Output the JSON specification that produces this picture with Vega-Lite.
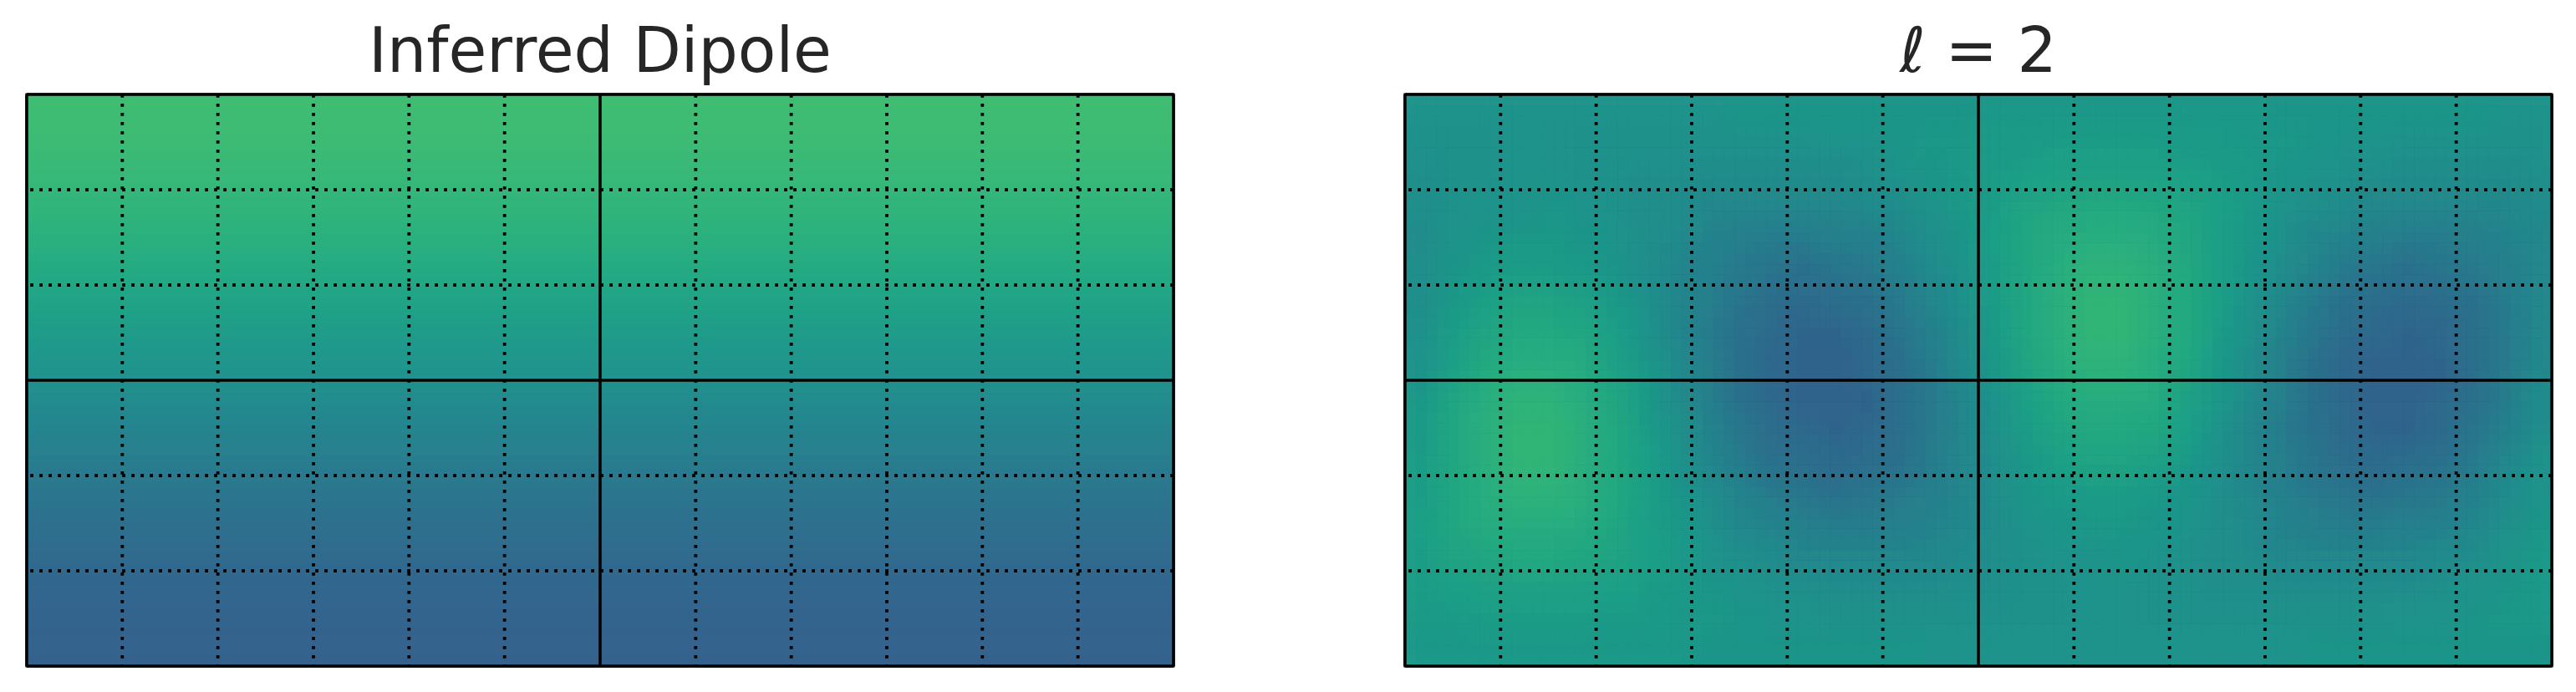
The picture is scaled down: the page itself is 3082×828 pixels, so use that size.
{
"$schema": "https://vega.github.io/schema/vega-lite/v6.json",
"background": "white",
"padding": {"left": 28, "top": 24, "right": 20, "bottom": 20},
"spacing": 269,
"config": {
  "view": {"stroke": "#000", "strokeWidth": 3.2},
  "title": {"font": "DejaVu Sans", "fontSize": 74.5, "fontWeight": "normal", "color": "#262626", "baseline": "alphabetic", "offset": 10}
},
"datasets": {
"mer": [{"lon":-180,"k":"s"},{"lon":-150,"k":"d"},{"lon":-120,"k":"d"},{"lon":-90,"k":"d"},{"lon":-60,"k":"d"},{"lon":-30,"k":"d"},{"lon":0,"k":"s"},{"lon":30,"k":"d"},{"lon":60,"k":"d"},{"lon":90,"k":"d"},{"lon":120,"k":"d"},{"lon":150,"k":"d"},{"lon":180,"k":"s"}],
"par": [{"lat":-90,"k":"s"},{"lat":-60,"k":"d"},{"lat":-30,"k":"d"},{"lat":0,"k":"s"},{"lat":30,"k":"d"},{"lat":60,"k":"d"},{"lat":90,"k":"s"}],
"dip": [
{"y":-89,"v":0.310},{"y":-87,"v":0.310},{"y":-85,"v":0.311},{"y":-83,"v":0.311},{"y":-81,"v":0.312},{"y":-79,"v":0.313},{"y":-77,"v":0.315},{"y":-75,"v":0.316},{"y":-73,"v":0.318},{"y":-71,"v":0.320},
{"y":-69,"v":0.323},{"y":-67,"v":0.325},{"y":-65,"v":0.328},{"y":-63,"v":0.331},{"y":-61,"v":0.334},{"y":-59,"v":0.337},{"y":-57,"v":0.341},{"y":-55,"v":0.344},{"y":-53,"v":0.348},{"y":-51,"v":0.352},
{"y":-49,"v":0.357},{"y":-47,"v":0.361},{"y":-45,"v":0.366},{"y":-43,"v":0.370},{"y":-41,"v":0.375},{"y":-39,"v":0.380},{"y":-37,"v":0.386},{"y":-35,"v":0.391},{"y":-33,"v":0.397},{"y":-31,"v":0.402},
{"y":-29,"v":0.408},{"y":-27,"v":0.414},{"y":-25,"v":0.420},{"y":-23,"v":0.426},{"y":-21,"v":0.432},{"y":-19,"v":0.438},{"y":-17,"v":0.444},{"y":-15,"v":0.451},{"y":-13,"v":0.457},{"y":-11,"v":0.464},
{"y":-9,"v":0.470},{"y":-7,"v":0.477},{"y":-5,"v":0.483},{"y":-3,"v":0.490},{"y":-1,"v":0.497},{"y":1,"v":0.503},{"y":3,"v":0.510},{"y":5,"v":0.517},{"y":7,"v":0.523},{"y":9,"v":0.530},
{"y":11,"v":0.536},{"y":13,"v":0.543},{"y":15,"v":0.549},{"y":17,"v":0.556},{"y":19,"v":0.562},{"y":21,"v":0.568},{"y":23,"v":0.574},{"y":25,"v":0.580},{"y":27,"v":0.586},{"y":29,"v":0.592},
{"y":31,"v":0.598},{"y":33,"v":0.603},{"y":35,"v":0.609},{"y":37,"v":0.614},{"y":39,"v":0.620},{"y":41,"v":0.625},{"y":43,"v":0.630},{"y":45,"v":0.634},{"y":47,"v":0.639},{"y":49,"v":0.643},
{"y":51,"v":0.648},{"y":53,"v":0.652},{"y":55,"v":0.656},{"y":57,"v":0.659},{"y":59,"v":0.663},{"y":61,"v":0.666},{"y":63,"v":0.669},{"y":65,"v":0.672},{"y":67,"v":0.675},{"y":69,"v":0.677},
{"y":71,"v":0.680},{"y":73,"v":0.682},{"y":75,"v":0.684},{"y":77,"v":0.685},{"y":79,"v":0.687},{"y":81,"v":0.688},{"y":83,"v":0.689},{"y":85,"v":0.689},{"y":87,"v":0.690},{"y":89,"v":0.690}
],
"l2": [
{"x":-175,"y":85,"v":0.52},{"x":-165,"y":85,"v":0.52},{"x":-155,"y":85,"v":0.52},{"x":-145,"y":85,"v":0.52},{"x":-135,"y":85,"v":0.52},{"x":-125,"y":85,"v":0.52},{"x":-115,"y":85,"v":0.52},{"x":-105,"y":85,"v":0.52},{"x":-95,"y":85,"v":0.52},{"x":-85,"y":85,"v":0.52},{"x":-75,"y":85,"v":0.53},{"x":-65,"y":85,"v":0.53},{"x":-55,"y":85,"v":0.53},{"x":-45,"y":85,"v":0.53},{"x":-35,"y":85,"v":0.53},{"x":-25,"y":85,"v":0.53},{"x":-15,"y":85,"v":0.53},{"x":-5,"y":85,"v":0.53},{"x":5,"y":85,"v":0.54},{"x":15,"y":85,"v":0.54},{"x":25,"y":85,"v":0.54},{"x":35,"y":85,"v":0.54},{"x":45,"y":85,"v":0.54},{"x":55,"y":85,"v":0.54},{"x":65,"y":85,"v":0.54},{"x":75,"y":85,"v":0.54},{"x":85,"y":85,"v":0.54},{"x":95,"y":85,"v":0.53},{"x":105,"y":85,"v":0.53},{"x":115,"y":85,"v":0.53},{"x":125,"y":85,"v":0.53},{"x":135,"y":85,"v":0.53},{"x":145,"y":85,"v":0.53},{"x":155,"y":85,"v":0.53},{"x":165,"y":85,"v":0.52},{"x":175,"y":85,"v":0.52},
{"x":-175,"y":75,"v":0.51},{"x":-165,"y":75,"v":0.51},{"x":-155,"y":75,"v":0.51},{"x":-145,"y":75,"v":0.52},{"x":-135,"y":75,"v":0.52},{"x":-125,"y":75,"v":0.51},{"x":-115,"y":75,"v":0.51},{"x":-105,"y":75,"v":0.51},{"x":-95,"y":75,"v":0.51},{"x":-85,"y":75,"v":0.51},{"x":-75,"y":75,"v":0.51},{"x":-65,"y":75,"v":0.51},{"x":-55,"y":75,"v":0.51},{"x":-45,"y":75,"v":0.52},{"x":-35,"y":75,"v":0.52},{"x":-25,"y":75,"v":0.53},{"x":-15,"y":75,"v":0.54},{"x":-5,"y":75,"v":0.54},{"x":5,"y":75,"v":0.55},{"x":15,"y":75,"v":0.55},{"x":25,"y":75,"v":0.56},{"x":35,"y":75,"v":0.56},{"x":45,"y":75,"v":0.56},{"x":55,"y":75,"v":0.56},{"x":65,"y":75,"v":0.55},{"x":75,"y":75,"v":0.55},{"x":85,"y":75,"v":0.54},{"x":95,"y":75,"v":0.54},{"x":105,"y":75,"v":0.53},{"x":115,"y":75,"v":0.52},{"x":125,"y":75,"v":0.52},{"x":135,"y":75,"v":0.51},{"x":145,"y":75,"v":0.51},{"x":155,"y":75,"v":0.51},{"x":165,"y":75,"v":0.51},{"x":175,"y":75,"v":0.51},
{"x":-175,"y":65,"v":0.50},{"x":-165,"y":65,"v":0.51},{"x":-155,"y":65,"v":0.51},{"x":-145,"y":65,"v":0.52},{"x":-135,"y":65,"v":0.52},{"x":-125,"y":65,"v":0.51},{"x":-115,"y":65,"v":0.51},{"x":-105,"y":65,"v":0.50},{"x":-95,"y":65,"v":0.50},{"x":-85,"y":65,"v":0.49},{"x":-75,"y":65,"v":0.49},{"x":-65,"y":65,"v":0.49},{"x":-55,"y":65,"v":0.49},{"x":-45,"y":65,"v":0.49},{"x":-35,"y":65,"v":0.50},{"x":-25,"y":65,"v":0.52},{"x":-15,"y":65,"v":0.53},{"x":-5,"y":65,"v":0.54},{"x":5,"y":65,"v":0.56},{"x":15,"y":65,"v":0.57},{"x":25,"y":65,"v":0.58},{"x":35,"y":65,"v":0.58},{"x":45,"y":65,"v":0.58},{"x":55,"y":65,"v":0.58},{"x":65,"y":65,"v":0.57},{"x":75,"y":65,"v":0.56},{"x":85,"y":65,"v":0.55},{"x":95,"y":65,"v":0.53},{"x":105,"y":65,"v":0.52},{"x":115,"y":65,"v":0.51},{"x":125,"y":65,"v":0.50},{"x":135,"y":65,"v":0.49},{"x":145,"y":65,"v":0.49},{"x":155,"y":65,"v":0.49},{"x":165,"y":65,"v":0.49},{"x":175,"y":65,"v":0.50},
{"x":-175,"y":55,"v":0.50},{"x":-165,"y":55,"v":0.51},{"x":-155,"y":55,"v":0.52},{"x":-145,"y":55,"v":0.52},{"x":-135,"y":55,"v":0.53},{"x":-125,"y":55,"v":0.52},{"x":-115,"y":55,"v":0.51},{"x":-105,"y":55,"v":0.50},{"x":-95,"y":55,"v":0.49},{"x":-85,"y":55,"v":0.47},{"x":-75,"y":55,"v":0.46},{"x":-65,"y":55,"v":0.46},{"x":-55,"y":55,"v":0.46},{"x":-45,"y":55,"v":0.46},{"x":-35,"y":55,"v":0.48},{"x":-25,"y":55,"v":0.49},{"x":-15,"y":55,"v":0.52},{"x":-5,"y":55,"v":0.54},{"x":5,"y":55,"v":0.56},{"x":15,"y":55,"v":0.59},{"x":25,"y":55,"v":0.60},{"x":35,"y":55,"v":0.61},{"x":45,"y":55,"v":0.61},{"x":55,"y":55,"v":0.60},{"x":65,"y":55,"v":0.59},{"x":75,"y":55,"v":0.57},{"x":85,"y":55,"v":0.55},{"x":95,"y":55,"v":0.52},{"x":105,"y":55,"v":0.50},{"x":115,"y":55,"v":0.48},{"x":125,"y":55,"v":0.46},{"x":135,"y":55,"v":0.46},{"x":145,"y":55,"v":0.46},{"x":155,"y":55,"v":0.46},{"x":165,"y":55,"v":0.47},{"x":175,"y":55,"v":0.48},
{"x":-175,"y":45,"v":0.49},{"x":-165,"y":45,"v":0.52},{"x":-155,"y":45,"v":0.53},{"x":-145,"y":45,"v":0.54},{"x":-135,"y":45,"v":0.54},{"x":-125,"y":45,"v":0.53},{"x":-115,"y":45,"v":0.52},{"x":-105,"y":45,"v":0.50},{"x":-95,"y":45,"v":0.48},{"x":-85,"y":45,"v":0.45},{"x":-75,"y":45,"v":0.43},{"x":-65,"y":45,"v":0.42},{"x":-55,"y":45,"v":0.42},{"x":-45,"y":45,"v":0.43},{"x":-35,"y":45,"v":0.44},{"x":-25,"y":45,"v":0.47},{"x":-15,"y":45,"v":0.50},{"x":-5,"y":45,"v":0.53},{"x":5,"y":45,"v":0.57},{"x":15,"y":45,"v":0.60},{"x":25,"y":45,"v":0.62},{"x":35,"y":45,"v":0.63},{"x":45,"y":45,"v":0.63},{"x":55,"y":45,"v":0.62},{"x":65,"y":45,"v":0.60},{"x":75,"y":45,"v":0.57},{"x":85,"y":45,"v":0.54},{"x":95,"y":45,"v":0.51},{"x":105,"y":45,"v":0.47},{"x":115,"y":45,"v":0.45},{"x":125,"y":45,"v":0.43},{"x":135,"y":45,"v":0.42},{"x":145,"y":45,"v":0.42},{"x":155,"y":45,"v":0.43},{"x":165,"y":45,"v":0.45},{"x":175,"y":45,"v":0.47},
{"x":-175,"y":35,"v":0.50},{"x":-165,"y":35,"v":0.53},{"x":-155,"y":35,"v":0.55},{"x":-145,"y":35,"v":0.56},{"x":-135,"y":35,"v":0.56},{"x":-125,"y":35,"v":0.55},{"x":-115,"y":35,"v":0.53},{"x":-105,"y":35,"v":0.50},{"x":-95,"y":35,"v":0.47},{"x":-85,"y":35,"v":0.44},{"x":-75,"y":35,"v":0.41},{"x":-65,"y":35,"v":0.39},{"x":-55,"y":35,"v":0.38},{"x":-45,"y":35,"v":0.39},{"x":-35,"y":35,"v":0.41},{"x":-25,"y":35,"v":0.44},{"x":-15,"y":35,"v":0.48},{"x":-5,"y":35,"v":0.52},{"x":5,"y":35,"v":0.56},{"x":15,"y":35,"v":0.60},{"x":25,"y":35,"v":0.63},{"x":35,"y":35,"v":0.65},{"x":45,"y":35,"v":0.65},{"x":55,"y":35,"v":0.64},{"x":65,"y":35,"v":0.61},{"x":75,"y":35,"v":0.57},{"x":85,"y":35,"v":0.53},{"x":95,"y":35,"v":0.49},{"x":105,"y":35,"v":0.45},{"x":115,"y":35,"v":0.41},{"x":125,"y":35,"v":0.39},{"x":135,"y":35,"v":0.38},{"x":145,"y":35,"v":0.39},{"x":155,"y":35,"v":0.41},{"x":165,"y":35,"v":0.43},{"x":175,"y":35,"v":0.46},
{"x":-175,"y":25,"v":0.50},{"x":-165,"y":25,"v":0.54},{"x":-155,"y":25,"v":0.57},{"x":-145,"y":25,"v":0.59},{"x":-135,"y":25,"v":0.59},{"x":-125,"y":25,"v":0.58},{"x":-115,"y":25,"v":0.55},{"x":-105,"y":25,"v":0.51},{"x":-95,"y":25,"v":0.47},{"x":-85,"y":25,"v":0.43},{"x":-75,"y":25,"v":0.39},{"x":-65,"y":25,"v":0.36},{"x":-55,"y":25,"v":0.35},{"x":-45,"y":25,"v":0.36},{"x":-35,"y":25,"v":0.38},{"x":-25,"y":25,"v":0.41},{"x":-15,"y":25,"v":0.46},{"x":-5,"y":25,"v":0.51},{"x":5,"y":25,"v":0.56},{"x":15,"y":25,"v":0.60},{"x":25,"y":25,"v":0.64},{"x":35,"y":25,"v":0.66},{"x":45,"y":25,"v":0.66},{"x":55,"y":25,"v":0.64},{"x":65,"y":25,"v":0.61},{"x":75,"y":25,"v":0.57},{"x":85,"y":25,"v":0.52},{"x":95,"y":25,"v":0.47},{"x":105,"y":25,"v":0.42},{"x":115,"y":25,"v":0.38},{"x":125,"y":25,"v":0.36},{"x":135,"y":25,"v":0.35},{"x":145,"y":25,"v":0.36},{"x":155,"y":25,"v":0.38},{"x":165,"y":25,"v":0.42},{"x":175,"y":25,"v":0.46},
{"x":-175,"y":15,"v":0.51},{"x":-165,"y":15,"v":0.56},{"x":-155,"y":15,"v":0.59},{"x":-145,"y":15,"v":0.61},{"x":-135,"y":15,"v":0.61},{"x":-125,"y":15,"v":0.60},{"x":-115,"y":15,"v":0.57},{"x":-105,"y":15,"v":0.52},{"x":-95,"y":15,"v":0.47},{"x":-85,"y":15,"v":0.42},{"x":-75,"y":15,"v":0.38},{"x":-65,"y":15,"v":0.35},{"x":-55,"y":15,"v":0.33},{"x":-45,"y":15,"v":0.33},{"x":-35,"y":15,"v":0.35},{"x":-25,"y":15,"v":0.39},{"x":-15,"y":15,"v":0.44},{"x":-5,"y":15,"v":0.49},{"x":5,"y":15,"v":0.55},{"x":15,"y":15,"v":0.60},{"x":25,"y":15,"v":0.64},{"x":35,"y":15,"v":0.66},{"x":45,"y":15,"v":0.66},{"x":55,"y":15,"v":0.64},{"x":65,"y":15,"v":0.61},{"x":75,"y":15,"v":0.56},{"x":85,"y":15,"v":0.51},{"x":95,"y":15,"v":0.45},{"x":105,"y":15,"v":0.40},{"x":115,"y":15,"v":0.36},{"x":125,"y":15,"v":0.34},{"x":135,"y":15,"v":0.33},{"x":145,"y":15,"v":0.34},{"x":155,"y":15,"v":0.37},{"x":165,"y":15,"v":0.41},{"x":175,"y":15,"v":0.46},
{"x":-175,"y":5,"v":0.52},{"x":-165,"y":5,"v":0.57},{"x":-155,"y":5,"v":0.61},{"x":-145,"y":5,"v":0.63},{"x":-135,"y":5,"v":0.63},{"x":-125,"y":5,"v":0.62},{"x":-115,"y":5,"v":0.58},{"x":-105,"y":5,"v":0.54},{"x":-95,"y":5,"v":0.48},{"x":-85,"y":5,"v":0.43},{"x":-75,"y":5,"v":0.38},{"x":-65,"y":5,"v":0.34},{"x":-55,"y":5,"v":0.32},{"x":-45,"y":5,"v":0.32},{"x":-35,"y":5,"v":0.34},{"x":-25,"y":5,"v":0.37},{"x":-15,"y":5,"v":0.42},{"x":-5,"y":5,"v":0.48},{"x":5,"y":5,"v":0.54},{"x":15,"y":5,"v":0.59},{"x":25,"y":5,"v":0.63},{"x":35,"y":5,"v":0.65},{"x":45,"y":5,"v":0.65},{"x":55,"y":5,"v":0.63},{"x":65,"y":5,"v":0.60},{"x":75,"y":5,"v":0.55},{"x":85,"y":5,"v":0.49},{"x":95,"y":5,"v":0.43},{"x":105,"y":5,"v":0.38},{"x":115,"y":5,"v":0.34},{"x":125,"y":5,"v":0.32},{"x":135,"y":5,"v":0.32},{"x":145,"y":5,"v":0.33},{"x":155,"y":5,"v":0.37},{"x":165,"y":5,"v":0.41},{"x":175,"y":5,"v":0.47},
{"x":-175,"y":-5,"v":0.54},{"x":-165,"y":-5,"v":0.59},{"x":-155,"y":-5,"v":0.63},{"x":-145,"y":-5,"v":0.65},{"x":-135,"y":-5,"v":0.65},{"x":-125,"y":-5,"v":0.63},{"x":-115,"y":-5,"v":0.60},{"x":-105,"y":-5,"v":0.55},{"x":-95,"y":-5,"v":0.49},{"x":-85,"y":-5,"v":0.43},{"x":-75,"y":-5,"v":0.38},{"x":-65,"y":-5,"v":0.34},{"x":-55,"y":-5,"v":0.32},{"x":-45,"y":-5,"v":0.32},{"x":-35,"y":-5,"v":0.33},{"x":-25,"y":-5,"v":0.37},{"x":-15,"y":-5,"v":0.41},{"x":-5,"y":-5,"v":0.47},{"x":5,"y":-5,"v":0.52},{"x":15,"y":-5,"v":0.57},{"x":25,"y":-5,"v":0.61},{"x":35,"y":-5,"v":0.63},{"x":45,"y":-5,"v":0.63},{"x":55,"y":-5,"v":0.62},{"x":65,"y":-5,"v":0.58},{"x":75,"y":-5,"v":0.54},{"x":85,"y":-5,"v":0.48},{"x":95,"y":-5,"v":0.43},{"x":105,"y":-5,"v":0.38},{"x":115,"y":-5,"v":0.34},{"x":125,"y":-5,"v":0.32},{"x":135,"y":-5,"v":0.32},{"x":145,"y":-5,"v":0.34},{"x":155,"y":-5,"v":0.37},{"x":165,"y":-5,"v":0.42},{"x":175,"y":-5,"v":0.48},
{"x":-175,"y":-15,"v":0.55},{"x":-165,"y":-15,"v":0.60},{"x":-155,"y":-15,"v":0.64},{"x":-145,"y":-15,"v":0.66},{"x":-135,"y":-15,"v":0.66},{"x":-125,"y":-15,"v":0.64},{"x":-115,"y":-15,"v":0.61},{"x":-105,"y":-15,"v":0.56},{"x":-95,"y":-15,"v":0.51},{"x":-85,"y":-15,"v":0.45},{"x":-75,"y":-15,"v":0.40},{"x":-65,"y":-15,"v":0.36},{"x":-55,"y":-15,"v":0.34},{"x":-45,"y":-15,"v":0.33},{"x":-35,"y":-15,"v":0.34},{"x":-25,"y":-15,"v":0.37},{"x":-15,"y":-15,"v":0.41},{"x":-5,"y":-15,"v":0.46},{"x":5,"y":-15,"v":0.51},{"x":15,"y":-15,"v":0.56},{"x":25,"y":-15,"v":0.59},{"x":35,"y":-15,"v":0.61},{"x":45,"y":-15,"v":0.61},{"x":55,"y":-15,"v":0.60},{"x":65,"y":-15,"v":0.57},{"x":75,"y":-15,"v":0.52},{"x":85,"y":-15,"v":0.47},{"x":95,"y":-15,"v":0.42},{"x":105,"y":-15,"v":0.38},{"x":115,"y":-15,"v":0.35},{"x":125,"y":-15,"v":0.33},{"x":135,"y":-15,"v":0.33},{"x":145,"y":-15,"v":0.35},{"x":155,"y":-15,"v":0.39},{"x":165,"y":-15,"v":0.44},{"x":175,"y":-15,"v":0.49},
{"x":-175,"y":-25,"v":0.56},{"x":-165,"y":-25,"v":0.60},{"x":-155,"y":-25,"v":0.64},{"x":-145,"y":-25,"v":0.66},{"x":-135,"y":-25,"v":0.66},{"x":-125,"y":-25,"v":0.64},{"x":-115,"y":-25,"v":0.61},{"x":-105,"y":-25,"v":0.57},{"x":-95,"y":-25,"v":0.52},{"x":-85,"y":-25,"v":0.47},{"x":-75,"y":-25,"v":0.42},{"x":-65,"y":-25,"v":0.38},{"x":-55,"y":-25,"v":0.36},{"x":-45,"y":-25,"v":0.35},{"x":-35,"y":-25,"v":0.36},{"x":-25,"y":-25,"v":0.38},{"x":-15,"y":-25,"v":0.42},{"x":-5,"y":-25,"v":0.46},{"x":5,"y":-25,"v":0.50},{"x":15,"y":-25,"v":0.54},{"x":25,"y":-25,"v":0.57},{"x":35,"y":-25,"v":0.59},{"x":45,"y":-25,"v":0.59},{"x":55,"y":-25,"v":0.58},{"x":65,"y":-25,"v":0.55},{"x":75,"y":-25,"v":0.51},{"x":85,"y":-25,"v":0.47},{"x":95,"y":-25,"v":0.43},{"x":105,"y":-25,"v":0.39},{"x":115,"y":-25,"v":0.36},{"x":125,"y":-25,"v":0.35},{"x":135,"y":-25,"v":0.36},{"x":145,"y":-25,"v":0.38},{"x":155,"y":-25,"v":0.41},{"x":165,"y":-25,"v":0.46},{"x":175,"y":-25,"v":0.51},
{"x":-175,"y":-35,"v":0.56},{"x":-165,"y":-35,"v":0.60},{"x":-155,"y":-35,"v":0.63},{"x":-145,"y":-35,"v":0.65},{"x":-135,"y":-35,"v":0.65},{"x":-125,"y":-35,"v":0.64},{"x":-115,"y":-35,"v":0.61},{"x":-105,"y":-35,"v":0.57},{"x":-95,"y":-35,"v":0.53},{"x":-85,"y":-35,"v":0.49},{"x":-75,"y":-35,"v":0.45},{"x":-65,"y":-35,"v":0.41},{"x":-55,"y":-35,"v":0.39},{"x":-45,"y":-35,"v":0.38},{"x":-35,"y":-35,"v":0.39},{"x":-25,"y":-35,"v":0.41},{"x":-15,"y":-35,"v":0.43},{"x":-5,"y":-35,"v":0.46},{"x":5,"y":-35,"v":0.50},{"x":15,"y":-35,"v":0.53},{"x":25,"y":-35,"v":0.55},{"x":35,"y":-35,"v":0.56},{"x":45,"y":-35,"v":0.56},{"x":55,"y":-35,"v":0.55},{"x":65,"y":-35,"v":0.53},{"x":75,"y":-35,"v":0.50},{"x":85,"y":-35,"v":0.47},{"x":95,"y":-35,"v":0.44},{"x":105,"y":-35,"v":0.41},{"x":115,"y":-35,"v":0.39},{"x":125,"y":-35,"v":0.38},{"x":135,"y":-35,"v":0.39},{"x":145,"y":-35,"v":0.41},{"x":155,"y":-35,"v":0.44},{"x":165,"y":-35,"v":0.48},{"x":175,"y":-35,"v":0.52},
{"x":-175,"y":-45,"v":0.57},{"x":-165,"y":-45,"v":0.60},{"x":-155,"y":-45,"v":0.62},{"x":-145,"y":-45,"v":0.63},{"x":-135,"y":-45,"v":0.63},{"x":-125,"y":-45,"v":0.62},{"x":-115,"y":-45,"v":0.60},{"x":-105,"y":-45,"v":0.57},{"x":-95,"y":-45,"v":0.54},{"x":-85,"y":-45,"v":0.51},{"x":-75,"y":-45,"v":0.47},{"x":-65,"y":-45,"v":0.45},{"x":-55,"y":-45,"v":0.43},{"x":-45,"y":-45,"v":0.42},{"x":-35,"y":-45,"v":0.42},{"x":-25,"y":-45,"v":0.43},{"x":-15,"y":-45,"v":0.45},{"x":-5,"y":-45,"v":0.47},{"x":5,"y":-45,"v":0.49},{"x":15,"y":-45,"v":0.52},{"x":25,"y":-45,"v":0.53},{"x":35,"y":-45,"v":0.54},{"x":45,"y":-45,"v":0.54},{"x":55,"y":-45,"v":0.53},{"x":65,"y":-45,"v":0.52},{"x":75,"y":-45,"v":0.50},{"x":85,"y":-45,"v":0.48},{"x":95,"y":-45,"v":0.45},{"x":105,"y":-45,"v":0.43},{"x":115,"y":-45,"v":0.42},{"x":125,"y":-45,"v":0.42},{"x":135,"y":-45,"v":0.43},{"x":145,"y":-45,"v":0.44},{"x":155,"y":-45,"v":0.47},{"x":165,"y":-45,"v":0.50},{"x":175,"y":-45,"v":0.53},
{"x":-175,"y":-55,"v":0.56},{"x":-165,"y":-55,"v":0.59},{"x":-155,"y":-55,"v":0.60},{"x":-145,"y":-55,"v":0.61},{"x":-135,"y":-55,"v":0.61},{"x":-125,"y":-55,"v":0.60},{"x":-115,"y":-55,"v":0.59},{"x":-105,"y":-55,"v":0.57},{"x":-95,"y":-55,"v":0.55},{"x":-85,"y":-55,"v":0.52},{"x":-75,"y":-55,"v":0.50},{"x":-65,"y":-55,"v":0.48},{"x":-55,"y":-55,"v":0.46},{"x":-45,"y":-55,"v":0.46},{"x":-35,"y":-55,"v":0.46},{"x":-25,"y":-55,"v":0.46},{"x":-15,"y":-55,"v":0.47},{"x":-5,"y":-55,"v":0.48},{"x":5,"y":-55,"v":0.50},{"x":15,"y":-55,"v":0.51},{"x":25,"y":-55,"v":0.52},{"x":35,"y":-55,"v":0.52},{"x":45,"y":-55,"v":0.53},{"x":55,"y":-55,"v":0.52},{"x":65,"y":-55,"v":0.51},{"x":75,"y":-55,"v":0.50},{"x":85,"y":-55,"v":0.49},{"x":95,"y":-55,"v":0.47},{"x":105,"y":-55,"v":0.46},{"x":115,"y":-55,"v":0.46},{"x":125,"y":-55,"v":0.46},{"x":135,"y":-55,"v":0.46},{"x":145,"y":-55,"v":0.48},{"x":155,"y":-55,"v":0.49},{"x":165,"y":-55,"v":0.52},{"x":175,"y":-55,"v":0.54},
{"x":-175,"y":-65,"v":0.56},{"x":-165,"y":-65,"v":0.57},{"x":-155,"y":-65,"v":0.58},{"x":-145,"y":-65,"v":0.58},{"x":-135,"y":-65,"v":0.58},{"x":-125,"y":-65,"v":0.58},{"x":-115,"y":-65,"v":0.57},{"x":-105,"y":-65,"v":0.56},{"x":-95,"y":-65,"v":0.55},{"x":-85,"y":-65,"v":0.53},{"x":-75,"y":-65,"v":0.52},{"x":-65,"y":-65,"v":0.51},{"x":-55,"y":-65,"v":0.50},{"x":-45,"y":-65,"v":0.49},{"x":-35,"y":-65,"v":0.49},{"x":-25,"y":-65,"v":0.49},{"x":-15,"y":-65,"v":0.49},{"x":-5,"y":-65,"v":0.50},{"x":5,"y":-65,"v":0.50},{"x":15,"y":-65,"v":0.51},{"x":25,"y":-65,"v":0.51},{"x":35,"y":-65,"v":0.52},{"x":45,"y":-65,"v":0.52},{"x":55,"y":-65,"v":0.51},{"x":65,"y":-65,"v":0.51},{"x":75,"y":-65,"v":0.50},{"x":85,"y":-65,"v":0.50},{"x":95,"y":-65,"v":0.49},{"x":105,"y":-65,"v":0.49},{"x":115,"y":-65,"v":0.49},{"x":125,"y":-65,"v":0.49},{"x":135,"y":-65,"v":0.49},{"x":145,"y":-65,"v":0.50},{"x":155,"y":-65,"v":0.52},{"x":165,"y":-65,"v":0.53},{"x":175,"y":-65,"v":0.54},
{"x":-175,"y":-75,"v":0.55},{"x":-165,"y":-75,"v":0.55},{"x":-155,"y":-75,"v":0.56},{"x":-145,"y":-75,"v":0.56},{"x":-135,"y":-75,"v":0.56},{"x":-125,"y":-75,"v":0.56},{"x":-115,"y":-75,"v":0.55},{"x":-105,"y":-75,"v":0.55},{"x":-95,"y":-75,"v":0.54},{"x":-85,"y":-75,"v":0.54},{"x":-75,"y":-75,"v":0.53},{"x":-65,"y":-75,"v":0.52},{"x":-55,"y":-75,"v":0.52},{"x":-45,"y":-75,"v":0.51},{"x":-35,"y":-75,"v":0.51},{"x":-25,"y":-75,"v":0.51},{"x":-15,"y":-75,"v":0.51},{"x":-5,"y":-75,"v":0.51},{"x":5,"y":-75,"v":0.51},{"x":15,"y":-75,"v":0.51},{"x":25,"y":-75,"v":0.51},{"x":35,"y":-75,"v":0.52},{"x":45,"y":-75,"v":0.52},{"x":55,"y":-75,"v":0.51},{"x":65,"y":-75,"v":0.51},{"x":75,"y":-75,"v":0.51},{"x":85,"y":-75,"v":0.51},{"x":95,"y":-75,"v":0.51},{"x":105,"y":-75,"v":0.51},{"x":115,"y":-75,"v":0.51},{"x":125,"y":-75,"v":0.51},{"x":135,"y":-75,"v":0.52},{"x":145,"y":-75,"v":0.52},{"x":155,"y":-75,"v":0.53},{"x":165,"y":-75,"v":0.54},{"x":175,"y":-75,"v":0.54},
{"x":-175,"y":-85,"v":0.54},{"x":-165,"y":-85,"v":0.54},{"x":-155,"y":-85,"v":0.54},{"x":-145,"y":-85,"v":0.54},{"x":-135,"y":-85,"v":0.54},{"x":-125,"y":-85,"v":0.54},{"x":-115,"y":-85,"v":0.54},{"x":-105,"y":-85,"v":0.54},{"x":-95,"y":-85,"v":0.54},{"x":-85,"y":-85,"v":0.53},{"x":-75,"y":-85,"v":0.53},{"x":-65,"y":-85,"v":0.53},{"x":-55,"y":-85,"v":0.53},{"x":-45,"y":-85,"v":0.53},{"x":-35,"y":-85,"v":0.53},{"x":-25,"y":-85,"v":0.53},{"x":-15,"y":-85,"v":0.52},{"x":-5,"y":-85,"v":0.52},{"x":5,"y":-85,"v":0.52},{"x":15,"y":-85,"v":0.52},{"x":25,"y":-85,"v":0.52},{"x":35,"y":-85,"v":0.52},{"x":45,"y":-85,"v":0.52},{"x":55,"y":-85,"v":0.52},{"x":65,"y":-85,"v":0.52},{"x":75,"y":-85,"v":0.52},{"x":85,"y":-85,"v":0.52},{"x":95,"y":-85,"v":0.52},{"x":105,"y":-85,"v":0.53},{"x":115,"y":-85,"v":0.53},{"x":125,"y":-85,"v":0.53},{"x":135,"y":-85,"v":0.53},{"x":145,"y":-85,"v":0.53},{"x":155,"y":-85,"v":0.53},{"x":165,"y":-85,"v":0.53},{"x":175,"y":-85,"v":0.53}
]
},
"hconcat": [
{
  "width": 1372, "height": 684,
  "title": "Inferred Dipole",
  "layer": [
    {"data": {"name": "dip"}, "mark": {"type": "rect", "binSpacing": 0, "strokeWidth": 1},
     "encoding": {
       "y": {"field": "y", "type": "quantitative", "bin": {"step": 2, "extent": [-90, 90]}, "scale": {"domain": [-90, 90], "nice": false, "zero": false}, "axis": null},
       "x": {"datum": -180, "type": "quantitative", "scale": {"domain": [-180, 180], "nice": false, "zero": false}, "axis": null},
       "x2": {"datum": 180},
       "color": {"field": "v", "type": "quantitative", "scale": {"scheme": "viridis", "domain": [0, 1]}, "legend": null},
       "stroke": {"field": "v", "type": "quantitative", "scale": {"scheme": "viridis", "domain": [0, 1]}, "legend": null}
     }},
    {"data": {"name": "mer"}, "mark": {"type": "rule", "color": "#000", "strokeCap": "butt"},
     "encoding": {
       "x": {"field": "lon", "type": "quantitative", "scale": {"domain": [-180, 180], "nice": false, "zero": false}, "axis": null},
       "strokeDash": {"field": "k", "type": "nominal", "scale": {"domain": ["d", "s"], "range": [[3.8, 7.2], [1, 0]]}, "legend": null},
       "strokeWidth": {"field": "k", "type": "nominal", "scale": {"domain": ["d", "s"], "range": [3.8, 3.5]}, "legend": null}
     }},
    {"data": {"name": "par"}, "mark": {"type": "rule", "color": "#000", "strokeCap": "butt"},
     "encoding": {
       "y": {"field": "lat", "type": "quantitative", "scale": {"domain": [-90, 90], "nice": false, "zero": false}, "axis": null},
       "strokeDash": {"field": "k", "type": "nominal", "scale": {"domain": ["d", "s"], "range": [[3.8, 7.2], [1, 0]]}, "legend": null},
       "strokeWidth": {"field": "k", "type": "nominal", "scale": {"domain": ["d", "s"], "range": [3.8, 3.5]}, "legend": null}
     }}
  ]
},
{
  "width": 1372, "height": 684,
  "title": "ℓ = 2",
  "layer": [
    {"data": {"name": "l2"}, "mark": {"type": "rect", "binSpacing": 0, "strokeWidth": 1, "clip": true},
     "encoding": {
       "x": {"field": "x", "type": "quantitative", "bin": {"step": 10, "extent": [-180, 180]}, "scale": {"domain": [-180, 180], "nice": false, "zero": false}, "axis": null},
       "y": {"field": "y", "type": "quantitative", "bin": {"step": 10, "extent": [-90, 90]}, "scale": {"domain": [-90, 90], "nice": false, "zero": false}, "axis": null},
       "color": {"field": "v", "type": "quantitative", "scale": {"scheme": "viridis", "domain": [0, 1]}, "legend": null},
       "stroke": {"field": "v", "type": "quantitative", "scale": {"scheme": "viridis", "domain": [0, 1]}, "legend": null}
     }},
    {"data": {"name": "l2"}, "mark": {"type": "rect", "binSpacing": 0, "clip": true, "opacity": 0.5},
     "encoding": {
       "x": {"field": "x", "type": "quantitative", "bin": {"step": 10, "extent": [-190, 180], "anchor": -183.3333}, "scale": {"domain": [-180, 180], "nice": false, "zero": false}, "axis": null},
       "y": {"field": "y", "type": "quantitative", "bin": {"step": 10, "extent": [-90, 90]}, "scale": {"domain": [-90, 90], "nice": false, "zero": false}, "axis": null},
       "color": {"field": "v", "type": "quantitative", "scale": {"scheme": "viridis", "domain": [0, 1]}, "legend": null}
     }},
    {"data": {"name": "l2"}, "mark": {"type": "rect", "binSpacing": 0, "clip": true, "opacity": 0.3333},
     "encoding": {
       "x": {"field": "x", "type": "quantitative", "bin": {"step": 10, "extent": [-180, 180], "anchor": -176.6667}, "scale": {"domain": [-180, 180], "nice": false, "zero": false}, "axis": null},
       "y": {"field": "y", "type": "quantitative", "bin": {"step": 10, "extent": [-90, 90]}, "scale": {"domain": [-90, 90], "nice": false, "zero": false}, "axis": null},
       "color": {"field": "v", "type": "quantitative", "scale": {"scheme": "viridis", "domain": [0, 1]}, "legend": null}
     }},
    {"data": {"name": "l2"}, "mark": {"type": "rect", "binSpacing": 0, "clip": true, "opacity": 0.25},
     "encoding": {
       "x": {"field": "x", "type": "quantitative", "bin": {"step": 10, "extent": [-180, 180]}, "scale": {"domain": [-180, 180], "nice": false, "zero": false}, "axis": null},
       "y": {"field": "y", "type": "quantitative", "bin": {"step": 10, "extent": [-100, 90], "anchor": -93.3333}, "scale": {"domain": [-90, 90], "nice": false, "zero": false}, "axis": null},
       "color": {"field": "v", "type": "quantitative", "scale": {"scheme": "viridis", "domain": [0, 1]}, "legend": null}
     }},
    {"data": {"name": "l2"}, "mark": {"type": "rect", "binSpacing": 0, "clip": true, "opacity": 0.2},
     "encoding": {
       "x": {"field": "x", "type": "quantitative", "bin": {"step": 10, "extent": [-180, 180]}, "scale": {"domain": [-180, 180], "nice": false, "zero": false}, "axis": null},
       "y": {"field": "y", "type": "quantitative", "bin": {"step": 10, "extent": [-90, 90], "anchor": -86.6667}, "scale": {"domain": [-90, 90], "nice": false, "zero": false}, "axis": null},
       "color": {"field": "v", "type": "quantitative", "scale": {"scheme": "viridis", "domain": [0, 1]}, "legend": null}
     }},
    {"data": {"name": "l2"}, "mark": {"type": "rect", "binSpacing": 0, "clip": true, "opacity": 0.1667},
     "encoding": {
       "x": {"field": "x", "type": "quantitative", "bin": {"step": 10, "extent": [-190, 180], "anchor": -183.3333}, "scale": {"domain": [-180, 180], "nice": false, "zero": false}, "axis": null},
       "y": {"field": "y", "type": "quantitative", "bin": {"step": 10, "extent": [-100, 90], "anchor": -93.3333}, "scale": {"domain": [-90, 90], "nice": false, "zero": false}, "axis": null},
       "color": {"field": "v", "type": "quantitative", "scale": {"scheme": "viridis", "domain": [0, 1]}, "legend": null}
     }},
    {"data": {"name": "l2"}, "mark": {"type": "rect", "binSpacing": 0, "clip": true, "opacity": 0.1429},
     "encoding": {
       "x": {"field": "x", "type": "quantitative", "bin": {"step": 10, "extent": [-180, 180], "anchor": -176.6667}, "scale": {"domain": [-180, 180], "nice": false, "zero": false}, "axis": null},
       "y": {"field": "y", "type": "quantitative", "bin": {"step": 10, "extent": [-90, 90], "anchor": -86.6667}, "scale": {"domain": [-90, 90], "nice": false, "zero": false}, "axis": null},
       "color": {"field": "v", "type": "quantitative", "scale": {"scheme": "viridis", "domain": [0, 1]}, "legend": null}
     }},
    {"data": {"name": "l2"}, "mark": {"type": "rect", "binSpacing": 0, "clip": true, "opacity": 0.125},
     "encoding": {
       "x": {"field": "x", "type": "quantitative", "bin": {"step": 10, "extent": [-190, 180], "anchor": -183.3333}, "scale": {"domain": [-180, 180], "nice": false, "zero": false}, "axis": null},
       "y": {"field": "y", "type": "quantitative", "bin": {"step": 10, "extent": [-90, 90], "anchor": -86.6667}, "scale": {"domain": [-90, 90], "nice": false, "zero": false}, "axis": null},
       "color": {"field": "v", "type": "quantitative", "scale": {"scheme": "viridis", "domain": [0, 1]}, "legend": null}
     }},
    {"data": {"name": "l2"}, "mark": {"type": "rect", "binSpacing": 0, "clip": true, "opacity": 0.1111},
     "encoding": {
       "x": {"field": "x", "type": "quantitative", "bin": {"step": 10, "extent": [-180, 180], "anchor": -176.6667}, "scale": {"domain": [-180, 180], "nice": false, "zero": false}, "axis": null},
       "y": {"field": "y", "type": "quantitative", "bin": {"step": 10, "extent": [-100, 90], "anchor": -93.3333}, "scale": {"domain": [-90, 90], "nice": false, "zero": false}, "axis": null},
       "color": {"field": "v", "type": "quantitative", "scale": {"scheme": "viridis", "domain": [0, 1]}, "legend": null}
     }},
    {"data": {"name": "mer"}, "mark": {"type": "rule", "color": "#000", "strokeCap": "butt"},
     "encoding": {
       "x": {"field": "lon", "type": "quantitative", "scale": {"domain": [-180, 180], "nice": false, "zero": false}, "axis": null},
       "strokeDash": {"field": "k", "type": "nominal", "scale": {"domain": ["d", "s"], "range": [[3.8, 7.2], [1, 0]]}, "legend": null},
       "strokeWidth": {"field": "k", "type": "nominal", "scale": {"domain": ["d", "s"], "range": [3.8, 3.5]}, "legend": null}
     }},
    {"data": {"name": "par"}, "mark": {"type": "rule", "color": "#000", "strokeCap": "butt"},
     "encoding": {
       "y": {"field": "lat", "type": "quantitative", "scale": {"domain": [-90, 90], "nice": false, "zero": false}, "axis": null},
       "strokeDash": {"field": "k", "type": "nominal", "scale": {"domain": ["d", "s"], "range": [[3.8, 7.2], [1, 0]]}, "legend": null},
       "strokeWidth": {"field": "k", "type": "nominal", "scale": {"domain": ["d", "s"], "range": [3.8, 3.5]}, "legend": null}
     }}
  ]
}
]
}
